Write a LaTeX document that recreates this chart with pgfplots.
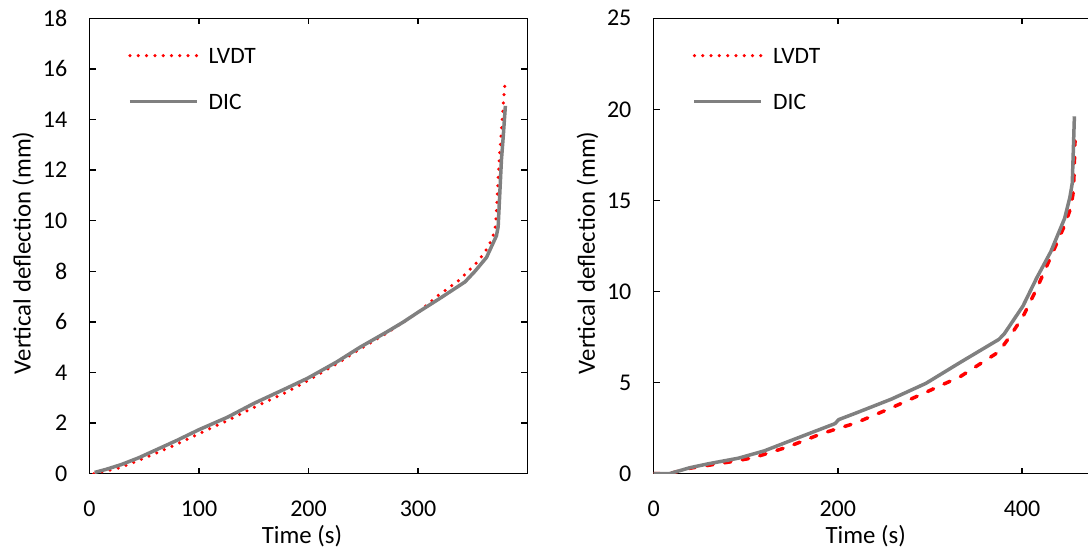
\documentclass[border=0pt]{standalone}
\usepackage{fontspec}
\setmainfont{Carlito}
\usepackage{pgfplots}
\pgfplotsset{compat=1.18}

\pgfplotsset{
  defl/.style={
    scale only axis, anchor=south west,
    height=455.4pt, ymin=0,
    axis line style={black, line width=1.4pt},
    tick style={black, line width=1.4pt},
    tick align=inside, major tick length=6pt,
    /pgf/number format/assume math mode=true,
    tick label style={font=\fontsize{24}{28}\selectfont},
    yticklabel style={anchor=east, inner sep=0pt, xshift=-22pt},
    xticklabel style={anchor=north, inner sep=0pt, yshift=-27pt},
    label style={font=\fontsize{24.8}{29}\selectfont},
    xlabel={Time (s)}, ylabel={Vertical deflection (mm)},
    legend cell align=left,
    legend image code/.code={\draw[##1] (0pt,0pt) -- (67pt,0pt);},
    legend style={draw=none, fill=none, anchor=north west, inner sep=0pt,
      row sep=30pt, column sep=10pt,
      nodes={inner sep=0pt, text height=16pt, text depth=0pt, anchor=west},
      font=\fontsize{23.5}{28}\selectfont},
  },
  lvdtdot/.style={red, line width=3.5pt, line cap=round, dash pattern=on 0pt off 8.3pt},
  lvdtdash/.style={red, line width=3.5pt, line cap=round, dash pattern=on 6.5pt off 11.5pt},
  dic/.style={gray, line width=3.5pt, line join=round},
}

\begin{document}
\begin{tikzpicture}
% left panel
\begin{axis}[defl, at={(89.5pt,77.3pt)}, width=438pt,
  xmin=0, xmax=400, ymax=18,
  xtick={0,100,200,300}, ytick={0,2,...,18},
  xlabel style={at={(axis description cs:0.485,-0.1365)}, anchor=center},
  ylabel style={at={(axis description cs:-0.151,0.485)}, anchor=center},
  legend style={at={(0.088,0.936)}}]
\addplot[lvdtdot] coordinates {
(4,0) (15,0.1) (29,0.25) (59.2,0.78) (80,1.17) (99.5,1.57) (125,2.08)
(150.2,2.62) (180,3.22) (199.5,3.68) (225,4.32) (247.1,4.93) (271.4,5.55)
(300,6.37) (318.6,7.05) (336.8,7.62) (355,8.4) (364,8.95) (370.2,9.57)
(371.6,10.29) (372.5,11.08) (373.8,12.13) (376.7,13.85) (378.5,14.96) (379.5,15.45)};
\addlegendentry{LVDT}
\addplot[dic] coordinates {
(4.7,0.05) (15,0.17) (29,0.36) (45,0.63) (59.2,0.91) (80,1.32) (99.5,1.73)
(125.9,2.23) (150.2,2.78) (180.5,3.39) (199.5,3.78) (225.9,4.42) (247.1,5.0)
(271.4,5.6) (286.8,6.0) (300,6.38) (320,6.93) (342.9,7.58) (352,8.0)
(362.6,8.55) (371.6,9.4) (373.2,9.76) (374.7,11.08) (376.2,12.4) (377.8,13.3)
(379.8,14.54)};
\addlegendentry{DIC}
\end{axis}
% right panel
\begin{axis}[defl, at={(653.6pt,77.3pt)}, width=552.6pt,
  xmin=0, xmax=600, ymax=25,
  xtick={0,200,400}, ytick={0,5,...,25},
  xlabel style={at={(axis description cs:0.384,-0.1365)}, anchor=center},
  ylabel style={at={(axis description cs:-0.1198,0.485)}, anchor=center},
  legend style={at={(0.0704,0.936)}}]
\addplot[lvdtdash, forget plot] coordinates {
(0,0) (17,0) (39.5,0.3) (92,0.72) (110,0.9) (146.3,1.48) (182.5,2.2)
(197,2.43) (218.7,2.77) (258,3.61) (295.7,4.47) (333.3,5.34) (374.8,6.69)
(386,7.47) (401,8.62) (416,10.16) (431.3,11.9) (446.3,13.64) (453,14.6)
(456,15.57) (457.6,18.27)};
\addlegendimage{lvdtdot}
\addlegendentry{LVDT}
\addplot[dic] coordinates {
(0,0) (17,0) (39.5,0.33) (60,0.55) (92,0.85) (120,1.25) (146,1.76)
(197,2.75) (201,2.97) (218.7,3.31) (258,4.09) (295.7,4.96) (333.3,6.12)
(374.8,7.37) (380.5,7.66) (401,9.2) (416,10.75) (431.3,12.19) (446.3,14.02)
(452,15.18) (454.6,15.95) (456.9,19.62)};
\addlegendentry{DIC}
\end{axis}
\pgfresetboundingbox
\useasboundingbox (0,0) rectangle (1088pt,551pt);
\end{tikzpicture}
\end{document}
